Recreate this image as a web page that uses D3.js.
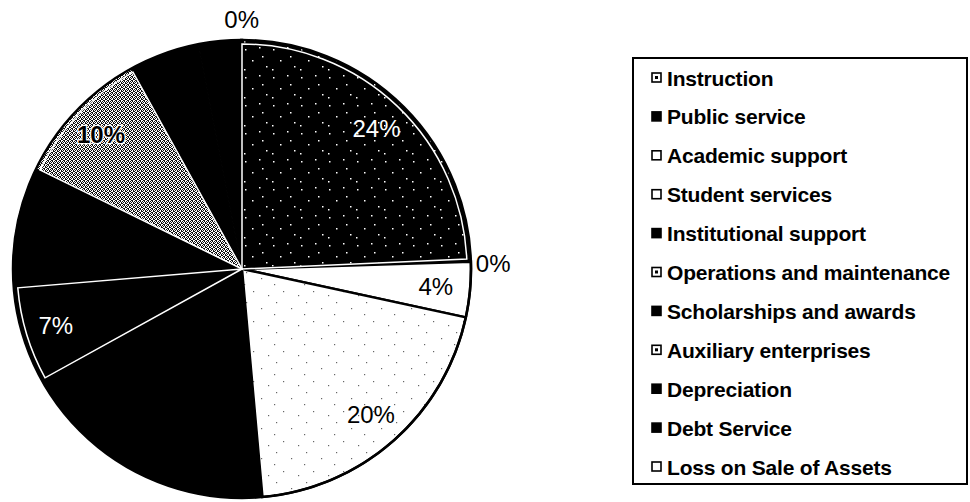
<!DOCTYPE html>
<html>
<head>
<meta charset="utf-8">
<script src="https://cdn.jsdelivr.net/npm/d3@7"></script>
<style>
  html, body { margin: 0; padding: 0; background: #fff; }
  svg { display: block; font-family: "Liberation Sans", Arial, sans-serif; }
</style>
</head>
<body>
<div id="chart"></div>
<script>
// Expense categories (legend order = clockwise slice order from 12 o'clock)
const categories = [
  "Instruction",
  "Public service",
  "Academic support",
  "Student services",
  "Institutional support",
  "Operations and maintenance",
  "Scholarships and awards",
  "Auxiliary enterprises",
  "Depreciation",
  "Debt Service",
  "Loss on Sale of Assets"
];

// share of total, in percent
const values = [24.3, 0.2, 3.9, 20.2, 18.4, 6.7, 8.6, 9.7, 5.0, 3.0, 0.05];

// slice look: fill pattern / colour, label colour, legend swatch
const sliceFill = ["url(#darkDots)", "#000", "#fff", "url(#lightDots)", "#000",
                   "#000", "#000", "url(#dither)", "#000", "#000", "#fff"];
const labelColor = ["#fff", "#000", "#000", "#000", "#000",
                    "#fff", "#000", "#000", "#000", "#000", "#000"];
const swatch = ["dot", "solid", "hollow", "hollow", "solid",
                "dot", "solid", "dot", "solid", "solid", "hollow"];

const width = 970, height = 502;
const cx = 242, cy = 269, r = 229;

const svg = d3.select("#chart")
  .append("svg")
    .attr("width", width)
    .attr("height", height)
    .attr("viewBox", [0, 0, width, height]);

// Patterns that mimic the scanned halftone look
const defs = svg.append("defs");

const dark = defs.append("pattern")
    .attr("id", "darkDots")
    .attr("patternUnits", "userSpaceOnUse")
    .attr("width", 28).attr("height", 28);
dark.append("rect").attr("width", 28).attr("height", 28).attr("fill", "#000");
[[3, 4], [17, 2], [10, 15], [24, 21], [2, 24], [20, 11]].forEach(([x, y]) =>
  dark.append("rect").attr("x", x).attr("y", y).attr("width", 1.5).attr("height", 1.5).attr("fill", "#fff"));

const light = defs.append("pattern")
    .attr("id", "lightDots")
    .attr("patternUnits", "userSpaceOnUse")
    .attr("width", 30).attr("height", 30);
light.append("rect").attr("width", 30).attr("height", 30).attr("fill", "#fff");
[[4, 3], [19, 9], [11, 22], [26, 26], [2, 15]].forEach(([x, y]) =>
  light.append("rect").attr("x", x).attr("y", y).attr("width", 1.2).attr("height", 1.2).attr("fill", "#666"));

const dither = defs.append("pattern")
    .attr("id", "dither")
    .attr("patternUnits", "userSpaceOnUse")
    .attr("width", 4).attr("height", 4);
dither.append("rect").attr("width", 4).attr("height", 4).attr("fill", "#fff");
[[0, 0], [2, 0], [1, 1], [3, 1], [0, 2], [3, 2], [1, 3], [2, 3]].forEach(([x, y]) =>
  dither.append("rect").attr("x", x).attr("y", y).attr("width", 1).attr("height", 1).attr("fill", "#111"));

// Pie
const pie = d3.pie().sort(null).value(d => d);
const arcs = pie(values);
const arc = d3.arc().innerRadius(0).outerRadius(r);
const inset = d3.arc().innerRadius(0).outerRadius(r - 4);
const labelArc = d3.arc().innerRadius(r * 0.85).outerRadius(r * 0.85);

const g = svg.append("g").attr("transform", `translate(${cx},${cy})`);

const isLight = i => sliceFill[i] === "#fff" || sliceFill[i] === "url(#lightDots)";

g.selectAll("path.slice")
  .data(arcs)
  .join("path")
    .attr("class", "slice")
    .attr("d", arc)
    .attr("fill", (d, i) => sliceFill[i])
    .attr("stroke", (d, i) => isLight(i) || sliceFill[i] === "#000" ? "#000" : "none")
    .attr("stroke-width", (d, i) => isLight(i) ? 2.5 : 1);

// white outlines seen on the patterned dark / grey slices
g.selectAll("path.inset")
  .data(arcs.filter((d, i) => [0, 5, 7].includes(i)))
  .join("path")
    .attr("class", "inset")
    .attr("d", inset)
    .attr("fill", "none")
    .attr("stroke", "#fff")
    .attr("stroke-width", 1.5);

// outer rim
g.append("circle")
    .attr("r", r)
    .attr("fill", "none")
    .attr("stroke", "#000")
    .attr("stroke-width", 2.5);

// Percentage labels
const fmt = v => `${Math.round(v)}%`;
g.selectAll("text.pct")
  .data(arcs)
  .join("text")
    .attr("class", "pct")
    .attr("font-size", 24)
    .each(function(d, i) {
      const t = d3.select(this).text(fmt(values[i]));
      const a = (d.startAngle + d.endAngle) / 2;
      if (values[i] < 1) {
        // tiny slices: label sits just outside the rim
        const s = Math.sin(a), c = Math.cos(a);
        if (Math.abs(s) < 0.3) {
          t.attr("x", (r + 12) * s).attr("y", -(r + 12) * c)
           .attr("text-anchor", "middle");
        } else {
          t.attr("x", (r + 5) * s).attr("y", -(r + 5) * c + 3)
           .attr("text-anchor", s > 0 ? "start" : "end")
           .attr("dominant-baseline", "central");
        }
        t.attr("fill", "#000");
      } else {
        const [x, y] = labelArc.centroid(d);
        t.attr("x", x).attr("y", y)
         .attr("text-anchor", "middle")
         .attr("dominant-baseline", "central")
         .attr("fill", labelColor[i]);
        if (sliceFill[i] === "url(#dither)") {
          // halo so the label stays readable on the grey dither
          t.attr("stroke", "#fff").attr("stroke-width", 2.5)
           .attr("paint-order", "stroke").attr("font-weight", "bold");
        }
      }
    });

// Legend
const lx = 633, ly = 58, lw = 334, lh = 426;
const legend = svg.append("g");
legend.append("rect")
    .attr("x", lx).attr("y", ly)
    .attr("width", lw).attr("height", lh)
    .attr("fill", "#fff")
    .attr("stroke", "#000")
    .attr("stroke-width", 2);

const row = d3.scalePoint()
  .domain(categories)
  .range([ly + 20, ly + lh - 17]);

const item = legend.selectAll("g.item")
  .data(categories)
  .join("g")
    .attr("class", "item")
    .attr("transform", d => `translate(${lx + 19},${row(d)})`);

item.append("rect")
    .attr("x", 0).attr("y", -5)
    .attr("width", 9).attr("height", 9)
    .attr("fill", (d, i) => swatch[i] === "solid" ? "#000" : "#fff")
    .attr("stroke", "#000")
    .attr("stroke-width", 1.6);

item.filter((d, i) => swatch[i] === "dot")
  .append("rect")
    .attr("x", 3).attr("y", -2)
    .attr("width", 3).attr("height", 3)
    .attr("fill", "#000");

item.append("text")
    .attr("x", 15)
    .attr("y", 0)
    .attr("dominant-baseline", "central")
    .attr("font-size", 21)
    .attr("font-weight", "bold")
    .attr("letter-spacing", -0.2)
    .text(d => d);
</script>
</body>
</html>
